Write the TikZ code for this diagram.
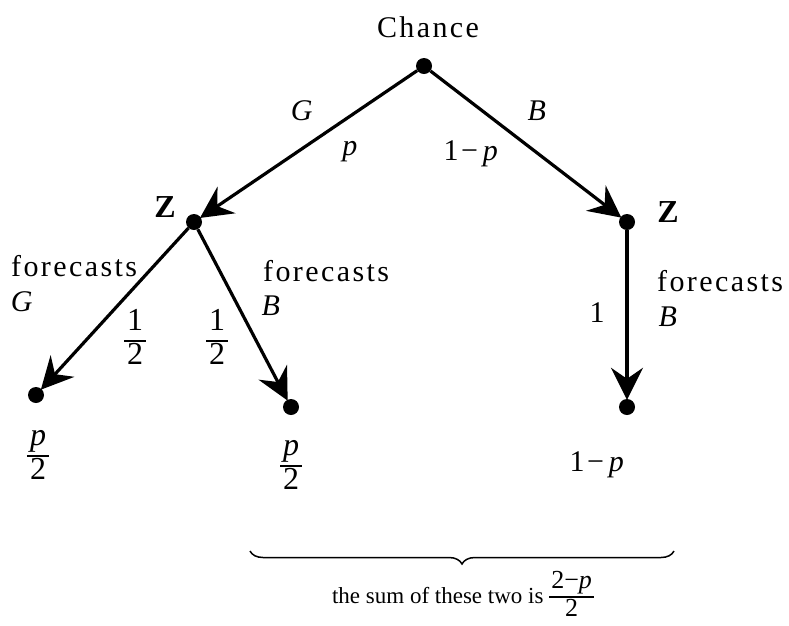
\documentclass[tikz,border=0pt]{standalone}
\usepackage{fontspec}
\setmainfont{Liberation Serif}
\newfontfamily\spc[LetterSpace=8]{Liberation Serif}
\usetikzlibrary{arrows.meta,decorations.pathreplacing}
\newcommand\myfr[2]{\setlength\arrayrulewidth{2pt}\renewcommand\arraystretch{0.95}\begin{tabular}{@{\hspace{3pt}}c@{\hspace{3pt}}}#1\\\hline #2\end{tabular}}
\newcommand\smfr[2]{{\fontsize{26}{28}\selectfont\setlength\arrayrulewidth{1.2pt}\renewcommand\arraystretch{0.95}\begin{tabular}{@{\hspace{2pt}}c@{\hspace{2pt}}}#1\\\hline #2\end{tabular}}}
\begin{document}
\begin{tikzpicture}[x=1pt,y=-1pt,
  dot/.style={circle,fill=black,inner sep=0pt,minimum size=16pt},
  lab/.style={font=\fontsize{30}{32}\selectfont\spc,inner sep=0pt},
  frlab/.style={font=\fontsize{32}{34}\selectfont,inner sep=0pt},
  zlab/.style={font=\fontsize{32}{34}\selectfont\bfseries,inner sep=0pt},
  arr/.style={line width=3.2pt,-{Stealth[length=32pt,width=32pt,inset=11pt]},shorten >=-1pt}]
\useasboundingbox[fill=white] (0,0) rectangle (789,625);
% nodes
\node[dot] (c) at (424,66) {};
\node[dot] (zl) at (194,222) {};
\node[dot] (zr) at (627,222) {};
\node[dot] (ll) at (36,395) {};
\node[dot] (lr) at (291,407) {};
\node[dot] (rr) at (627,407) {};
% arrows
\draw[arr] (c) -- (zl);
\draw[arr] (c) -- (zr);
\draw[arr] (zl) -- (ll);
\draw[arr] (zl) -- (lr);
\draw[arr] (zr) -- (rr);
% labels
\node[lab] (tchance) at (428,27) {Chance};
\node[zlab] (tzl) at (165,207) {Z};
\node[zlab] (tzr) at (668,212) {Z};
\node[lab] (tG) at (303,111) {\textit{G}};
\node[lab] (tp) at (351,152) {\textit{p}};
\node[lab] (tB) at (538,111) {\textit{B}};
\node[lab] (t1p) at (472,154) {1−\,\textit{p}};
\node[lab,anchor=west] (tf1) at (11,266) {forecasts};
\node[lab] (tG2) at (23,302) {\textit{G}};
\node[frlab] (th1) at (135,341) {\myfr{1}{2}};
\node[frlab] (th2) at (217,341) {\myfr{1}{2}};
\node[lab,anchor=west] (tf2) at (263,271) {forecasts};
\node[lab] (tB2) at (272,306) {\textit{B}};
\node[lab] (tone) at (597,313) {1};
\node[lab,anchor=west] (tf3) at (657,281) {forecasts};
\node[lab] (tB3) at (669,317) {\textit{B}};
\node[frlab] (tp2a) at (38,456) {\myfr{\textit{p}}{2}};
\node[frlab] (tp2b) at (291,466) {\myfr{\textit{p}}{2}};
\node[lab] (t1pb) at (598,465) {1−\,\textit{p}};
% brace
\coordinate (b1) at (250,551);
\coordinate (b2) at (674,551);
\draw[line width=1.5pt,decoration={brace,mirror,amplitude=13pt},decorate] (b1) -- (b2);
\node[font=\fontsize{23}{25}\selectfont,inner sep=0pt] (tsum) at (463,597) {the sum of these two is \smfr{2−\textit{p}}{2}};
\end{tikzpicture}
\end{document}
